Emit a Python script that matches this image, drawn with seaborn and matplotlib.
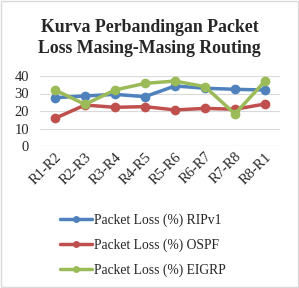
import pandas as pd
import seaborn as sns
import matplotlib.pyplot as plt

# Data
links = ["R1-R2", "R2-R3", "R3-R4", "R4-R5", "R5-R6", "R6-R7", "R7-R8", "R8-R1"]
ripv1 = [27.6, 28.6, 29.5, 28.2, 34.3, 33.0, 32.4, 32.0]
ospf = [15.8, 23.4, 22.1, 22.5, 20.6, 21.5, 21.0, 24.0]
eigrp = [32.0, 23.8, 32.0, 35.8, 37.1, 33.9, 18.3, 37.1]
series_names = ["Packet Loss (%) RIPv1", "Packet Loss (%) OSPF", "Packet Loss (%) EIGRP"]
colors = ["#4F81BD", "#C0504D", "#9BBB59"]

df = pd.DataFrame({"link": links * 3,
                   "value": ripv1 + ospf + eigrp,
                   "series": [s for s in series_names for _ in links]})

sns.set_style("white")
plt.rcParams["font.family"] = ["Liberation Serif", "DejaVu Serif"]

fig = plt.figure(figsize=(2.99, 2.88), dpi=100)
ax = fig.add_axes([40 / 299, 1 - 146 / 288, 240 / 299, 70 / 288])

sns.lineplot(data=df, x="link", y="value", hue="series", palette=colors,
             marker="o", markersize=7, markeredgewidth=0, linewidth=2.5,
             sort=False, ax=ax, legend=True)

ax.set_xlim(-0.5, 7.5)
ax.set_ylim(0, 40)
ax.set_yticks([0, 10, 20, 30, 40])
ax.yaxis.grid(True, color="#D9D9D9", linewidth=0.8)
for s in ax.spines.values():
    s.set_visible(False)
ax.axhline(0, color="#D9D9D9", linewidth=0.8)
ax.set_xlabel("")
ax.set_ylabel("")
ax.tick_params(axis="both", length=0, labelsize=10.5, pad=3)
ax.tick_params(axis="y", pad=8)
plt.setp(ax.get_xticklabels(), rotation=45, ha="right", rotation_mode="anchor")

# legend centred on the middle entry (about y=245 px)
leg = ax.legend(loc="center", bbox_to_anchor=(0.5 - 17 / 240, (146 - 245) / 70), frameon=False,
                fontsize=9.8, handlelength=2.3, handletextpad=0.15, labelspacing=0.85)
for h in leg.legend_handles:
    h.set_markersize(5)

fig.suptitle("Kurva Perbandingan Packet\nLoss Masing-Masing Routing",
             fontsize=12.8, fontweight="bold", y=0.935, linespacing=1.3)

fig.patches.append(plt.Rectangle((0.005, 0.005), 0.99, 0.99, transform=fig.transFigure,
                                 fill=False, edgecolor="#D9D9D9", linewidth=1))

fig.savefig("out.png", dpi=100)
